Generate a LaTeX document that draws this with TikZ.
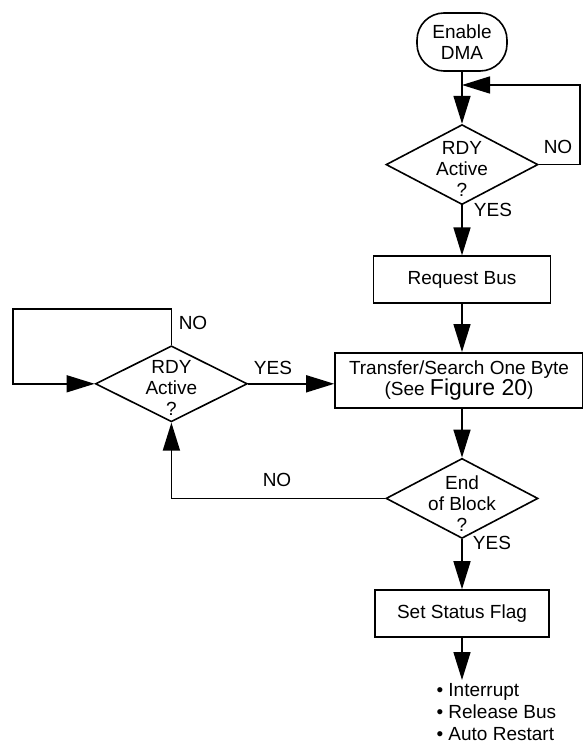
\documentclass[tikz,border=0pt]{standalone}
\usepackage{fontspec}
\setmainfont{Liberation Sans}
\usetikzlibrary{shapes.geometric, arrows.meta, positioning}

\begin{document}
\begin{tikzpicture}[
    x=1pt, y=-1pt,
    font=\fontsize{19}{21}\selectfont,
    block/.style={rectangle, draw, line width=1.6pt, text centered, minimum height=47pt},
    decision/.style={diamond, draw, line width=1.6pt, minimum width=152pt, minimum height=80pt, inner sep=0pt},
    terminal/.style={rectangle, draw, line width=1.6pt, rounded corners=27pt, align=center, minimum width=90pt, minimum height=58pt},
    line/.style={draw, line width=1.6pt, -{Triangle[length=28pt, width=17pt]}},
    tag/.style={inner sep=1pt},
    node distance=50pt
]
\useasboundingbox (0,0) rectangle (583,749);

% Main column
\node[terminal] (dma) at (462,42) {Enable\\DMA};
\node[decision, below=52pt of dma] (rdyA) {};
\node[align=center, yshift=-4pt] (rdyAtxt) at (rdyA) {RDY\\Active\\?};
\node[block, minimum width=177pt, below=of rdyA] (req) {Request Bus};
\node[block, minimum width=248pt, minimum height=55pt, align=center, below=48pt of req, xshift=-3pt] (xfer) {Transfer/Search One Byte\\(See {\fontsize{23}{21}\selectfont Figure 20})};
\node[decision, below=49pt of xfer, xshift=3pt] (eob) {};
\node[align=center, yshift=-5pt] (eobtxt) at (eob) {End\\of Block\\?};
\node[block, minimum width=174pt, below=of eob] (flag) {Set Status Flag};
\node[align=left, anchor=north west, font=\fontsize{19}{22}\selectfont] (acts) at (433,680) {• Interrupt\\• Release Bus\\• Auto Restart};

% Waiting loop on the left
\node[decision, minimum height=76pt, left=86pt of xfer, yshift=-3.5pt] (rdyB) {};
\node[align=center, yshift=-4pt] (rdyBtxt) at (rdyB) {RDY\\Active\\?};

% Loop corners
\coordinate (loopA) at (580,85);
\coordinate (loopB) at (13,309);

% Connections
\draw[line] (dma) -- (rdyA);
\draw[line] (rdyA.east) -| (loopA) -- (loopA -| dma);
\draw[line] (rdyA) -- (req);
\draw[line] (req.south) -- (req.south |- xfer.north);
\draw[line] (xfer.south -| eob) -- (eob);
\draw[line] (eob) -- (flag);
\draw[line] (eob.west) -| (rdyB.south);
\draw[line] (rdyB.east) -- (rdyB.east -| xfer.west);
\draw[line] (rdyB.north) |- (loopB) |- (rdyB.west);
\draw[line] (flag.south) -- (flag.south |- acts.north);

% Branch labels
\node[tag] (noA) at (558,147) {NO};
\node[tag] (yesA) at (493,210) {YES};
\node[tag] (noB) at (193,323) {NO};
\node[tag] (yesB) at (273,368) {YES};
\node[tag] (noC) at (277,480) {NO};
\node[tag] (yesC) at (492,543) {YES};

\end{tikzpicture}
\end{document}
